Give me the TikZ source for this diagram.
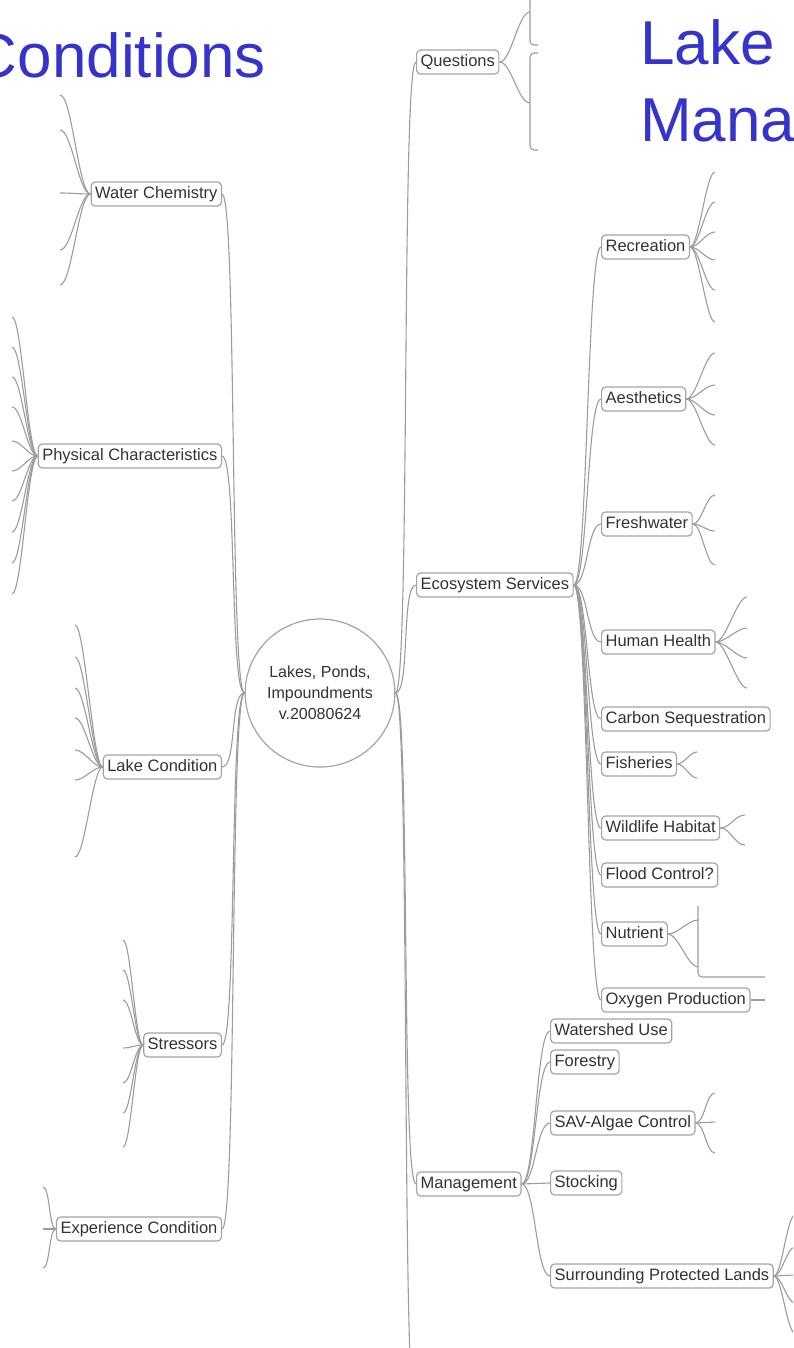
\documentclass[tikz,border=0pt]{standalone}
\usepackage{fontspec}
\setmainfont{Liberation Sans}
\usetikzlibrary{shapes.geometric}
\definecolor{titleblue}{HTML}{3434CC}
\definecolor{linkgray}{HTML}{9C9C9C}
\definecolor{boxgray}{HTML}{A4A4A4}
\definecolor{labelgray}{HTML}{333333}

\begin{document}
\begin{tikzpicture}[x=1pt,y=-1pt,
  font=\fontsize{16.5}{20}\selectfont,
  topic/.style={rectangle,rounded corners=4pt,draw=boxgray,line width=1.2pt,fill=white,text=labelgray,minimum height=24pt,inner xsep=4pt,inner ysep=0pt,text height=12pt,text depth=3.5pt},
  lt/.style={topic,anchor=east},
  rt/.style={topic,anchor=west},
  hub/.style={ellipse,draw=boxgray,line width=1.2pt,fill=white,text=labelgray,minimum width=135pt,minimum height=148pt,inner sep=0pt,align=center,font=\fontsize{16}{21}\selectfont},
  heading/.style={text=titleblue,font=\fontsize{62}{72}\selectfont,inner sep=0pt},
  link/.style={draw=linkgray,line width=1.1pt},
  tol/.style={to path={.. controls +(-#1,0) and +(#1,0) .. (\tikztotarget)}},
  tol/.default=15,
  tor/.style={to path={.. controls +(#1,0) and +(-#1,0) .. (\tikztotarget)}},
  tor/.default=15,
]
\useasboundingbox (0,0) rectangle (793,1348);
\clip (0,0) rectangle (793,1348);

% Slide titles
\node[heading,anchor=base east] (cond) at (266,78) {Conditions};
\node[heading,anchor=base west] (lake) at (640,65) {Lake};
\node[heading,anchor=base west] (mana) at (640,142) {Mana};

% Central topic
\node[hub] (hub) at (320,693) {Lakes, Ponds,\\Impoundments\\v.20080624};

% Left branches
\node[lt] (wc) at (222,194) {Water Chemistry};
\node[lt] (pc) at (222,456) {Physical Characteristics};
\node[lt] (lc) at (222,767) {Lake Condition};
\node[lt] (st) at (222,1045) {Stressors};
\node[lt] (ec) at (222,1229) {Experience Condition};

% Right branches
\node[rt] (qu) at (416,62) {Questions};
\node[rt] (es) at (416,585) {Ecosystem Services};
\node[rt] (mg) at (416,1184) {Management};
\coordinate (more) at (416,1420);

% Ecosystem services
\node[rt] (rec) at (601,247) {Recreation};
\node[rt] (aes) at (601,399) {Aesthetics};
\node[rt] (fw)  at (601,524) {Freshwater};
\node[rt] (hh)  at (601,642) {Human Health};
\node[rt] (cs)  at (601,719) {Carbon Sequestration};
\node[rt] (fi)  at (601,764) {Fisheries};
\node[rt] (wh)  at (601,828) {Wildlife Habitat};
\node[rt] (fc)  at (601,875) {Flood Control?};
\node[rt] (nu)  at (601,934) {Nutrient};
\node[rt] (ox)  at (601,1000) {Oxygen Production};

% Management
\node[rt] (wu)  at (550,1031) {Watershed Use};
\node[rt] (fo)  at (550,1062) {Forestry};
\node[rt] (sav) at (550,1123) {SAV-Algae Control};
\node[rt] (sto) at (550,1183) {Stocking};
\node[rt] (spl) at (550,1276) {Surrounding Protected Lands};

% Links from the centre
\foreach \n in {wc,pc,lc,st,ec}
  \draw[link] (hub.west) to[tol] (\n.east);
\foreach \n in {qu,es,mg,more}
  \draw[link] (hub.east) to[tor] (\n.west);
\foreach \n in {rec,aes,fw,hh,cs,fi,wh,fc,nu,ox}
  \draw[link] (es.east) to[tor=14] (\n.west);
\foreach \n in {wu,fo,sav,sto,spl}
  \draw[link] (mg.east) to[tor=14] (\n.west);

% Cut-off leaves, left side
\foreach \y [count=\i] in {95,130,193,250,285}
  {\coordinate (wc-\i) at (60,\y); \draw[link] (wc.west) to[tol=12] (wc-\i);}
\foreach \y [count=\i] in {317,347,377,407,441,471,501,532,563,594}
  {\coordinate (pc-\i) at (12,\y); \draw[link] (pc.west) to[tol=10] (pc-\i);}
\foreach \y [count=\i] in {625,657,688,718,750,780,857}
  {\coordinate (lc-\i) at (75,\y); \draw[link] (lc.west) to[tol=10] (lc-\i);}
\foreach \y [count=\i] in {940,970,1000,1048,1083,1113,1147}
  {\coordinate (st-\i) at (123,\y); \draw[link] (st.west) to[tol=8] (st-\i);}
\foreach \y [count=\i] in {1187,1229,1268}
  {\coordinate (ec-\i) at (43,\y); \draw[link] (ec.west) to[tol=7] (ec-\i);}

% Cut-off leaves, right side
\foreach \y [count=\i] in {12,103}
  {\coordinate (qu-\i) at (530,\y); \draw[link] (qu.east) to[tor=12] (qu-\i);}
\foreach \y [count=\i] in {172,202,232,260,290,322}
  {\coordinate (rec-\i) at (715,\y); \draw[link] (rec.east) to[tor=9] (rec-\i);}
\foreach \y [count=\i] in {353,385,415,445}
  {\coordinate (aes-\i) at (715,\y); \draw[link] (aes.east) to[tor=10] (aes-\i);}
\foreach \y [count=\i] in {495,531,565}
  {\coordinate (fw-\i) at (715,\y); \draw[link] (fw.east) to[tor=9] (fw-\i);}
\foreach \y [count=\i] in {597,628,658,688}
  {\coordinate (hh-\i) at (747,\y); \draw[link] (hh.east) to[tor=10] (hh-\i);}
\foreach \y [count=\i] in {752,778}
  {\coordinate (fi-\i) at (697,\y); \draw[link] (fi.east) to[tor=7] (fi-\i);}
\foreach \y [count=\i] in {815,845}
  {\coordinate (wh-\i) at (745,\y); \draw[link] (wh.east) to[tor=10] (wh-\i);}
\foreach \y [count=\i] in {920,967}
  {\coordinate (nu-\i) at (698,\y); \draw[link] (nu.east) to[tor=10] (nu-\i);}
\coordinate (ox-1) at (765,1000);
\draw[link] (ox.east) -- (ox-1);
\foreach \y [count=\i] in {1093,1122,1153}
  {\coordinate (sav-\i) at (715,\y); \draw[link] (sav.east) to[tor=9] (sav-\i);}
\foreach \y [count=\i] in {1215,1247,1275,1303,1333}
  {\coordinate (spl-\i) at (795,\y); \draw[link] (spl.east) to[tor=8] (spl-\i);}

% Edges of hidden leaf boxes
\draw[link,rounded corners=4pt] (538,-30) -- (530,-30) -- (530,45) -- (538,45);
\draw[link,rounded corners=4pt] (538,53) -- (530,53) -- (530,150) -- (538,150);
\draw[link,rounded corners=4pt] (698,906) -- (698,977) -- (765,977);
\end{tikzpicture}
\end{document}
